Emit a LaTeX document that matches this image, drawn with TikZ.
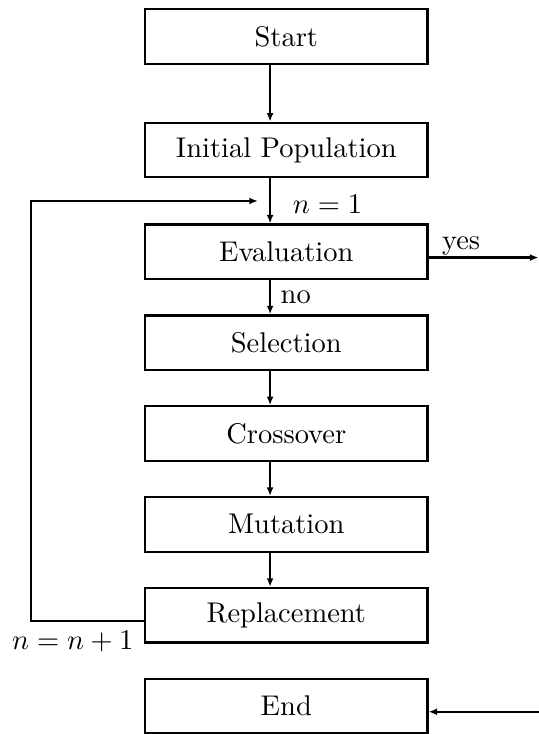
\documentclass[tikz,border=0pt]{standalone}
\usetikzlibrary{arrows.meta, positioning, calc}
\tikzset{
    flowchart/.style={>={Latex[length=3pt,width=2.4pt]}, thick, node distance=0.42cm},
    block/.style={draw, minimum width=3.48cm, minimum height=0.672cm, align=center},
    % the down arrows sit a little left of the box centres
    stem/.style={xshift=-0.2cm},
}
\begin{document}
\begin{tikzpicture}[flowchart]
    \useasboundingbox (0,0) rectangle (6.64,-9.05);

    \node[block] (start) at (3.53,-0.45) {Start};
    \node[block, below=0.70cm of start] (init) {Initial Population};
    \node[block, below=0.555cm of init] (eval) {Evaluation};
    \node[block, below=of eval] (sel) {Selection};
    \node[block, below=of sel] (cross) {Crossover};
    \node[block, below=of cross] (mut) {Mutation};
    \node[block, below=of mut] (repl) {Replacement};
    \node[block, below=of repl] (end) {End};

    \coordinate (rim) at (6.64,0);
    \coordinate (back) at ([yshift=-0.07cm]repl.west);
    \coordinate (merge) at ($(init.south)!0.5!(eval.north)+(-0.35,0)$);

    \draw[->] ([stem]start.south) -- ([stem]init.north);
    \draw[->] ([stem]init.south) -- ([stem]eval.north) node[pos=0.58, right=0.15cm] {$n=1$};
    \draw[->] ([stem]eval.south) -- ([stem]sel.north) node[midway, right] {no};
    \draw[->] ([stem]sel.south) -- ([stem]cross.north);
    \draw[->] ([stem]cross.south) -- ([stem]mut.north);
    \draw[->] ([stem]mut.south) -- ([stem]repl.north);

    % loop back for the next generation
    \draw[->] (back) node[below left] {$n=n+1$} -- ++(-1.394,0) |- (merge);

    \draw[->] ([yshift=-0.07cm]eval.east) node[above right, xshift=1pt, yshift=-3pt] {yes} -- ([yshift=-0.07cm]eval.east -| rim);
    \draw[->] ([yshift=-0.07cm]end.east -| rim) -- ([yshift=-0.07cm]end.east);

\end{tikzpicture}
\end{document}
